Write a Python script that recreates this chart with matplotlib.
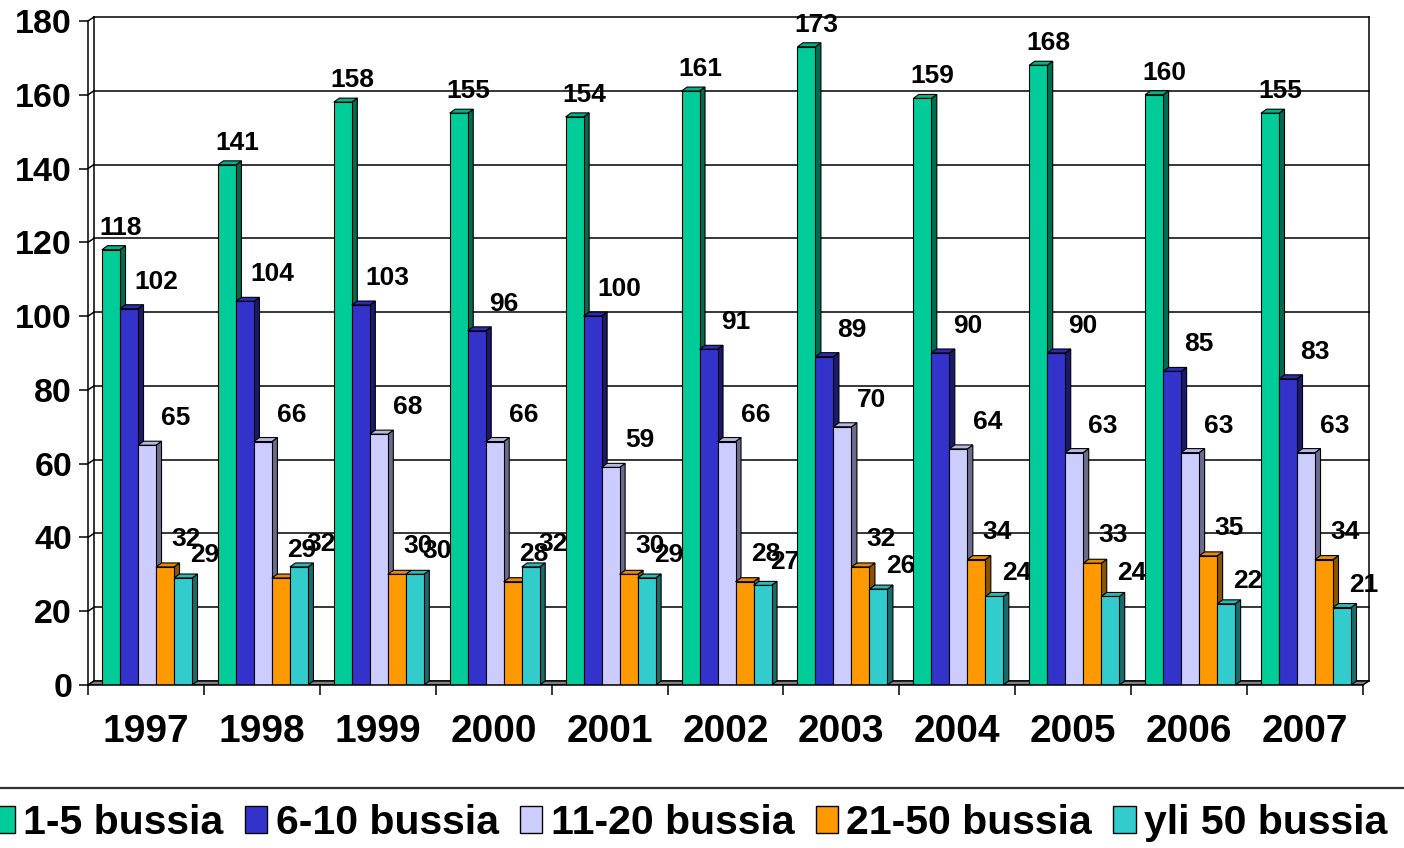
import matplotlib
matplotlib.use('Agg')
import matplotlib.pyplot as plt
import numpy as np
from matplotlib.patches import Polygon, Rectangle, Patch
from matplotlib.lines import Line2D

plt.rcParams['font.family'] = ['Liberation Sans', 'DejaVu Sans']

# Data
years = ['1997', '1998', '1999', '2000', '2001', '2002', '2003', '2004', '2005', '2006', '2007']
series_names = ['1-5 bussia', '6-10 bussia', '11-20 bussia', '21-50 bussia', 'yli 50 bussia']
s_1_5 = [118, 141, 158, 155, 154, 161, 173, 159, 168, 160, 155]
s_6_10 = [102, 104, 103, 96, 100, 91, 89, 90, 90, 85, 83]
s_11_20 = [65, 66, 68, 66, 59, 66, 70, 64, 63, 63, 63]
s_21_50 = [32, 29, 30, 28, 30, 28, 32, 34, 33, 35, 34]
s_yli_50 = [29, 32, 30, 32, 29, 27, 26, 24, 24, 22, 21]
series = [s_1_5, s_6_10, s_11_20, s_21_50, s_yli_50]

front_colors = ['#00CC99', '#3333CC', '#CCCCFF', '#FF9900', '#33CCCC']
side_colors = ['#006B4F', '#1A1A6B', '#6B6B8C', '#8C5400', '#1A6B6B']
top_colors = ['#00B386', '#2B2BB3', '#B8B8E6', '#E68A00', '#2DB8B8']
label_offsets = [(10, 22), (27, 27), (29, 27), (21, 28), (22, 23)]  # pixels

W, H = 1404, 848
fig = plt.figure(figsize=(W / 100, H / 100), dpi=100)

# layout in pixels
px_left, px_right = 88, 1372
px_top, px_bottom = 10, 685
cat_px = 115.9
val_px = 3.689

ax = fig.add_axes([px_left / W, (H - px_bottom) / H,
                   (px_right - px_left) / W, (px_bottom - px_top) / H])
ax.set_xlim(-0.5, -0.5 + (px_right - px_left) / cat_px)
ax.set_ylim(0, (px_bottom - px_top) / val_px)

# depth offsets (3D look)
dx = 6 / cat_px
dy = 4 / val_px
bdx = 5.5 / cat_px
bdy = 4 / val_px
bw = 18 / cat_px
x0, x1 = -0.5, len(years) - 0.5
ymax = 180

# back wall gridlines and connectors
for v in range(0, ymax + 1, 20):
    ax.plot([x0 + dx, x1 + dx], [v + dy, v + dy], color='black', lw=1.1, zorder=1)
    ax.plot([x0, x0 + dx], [v, v + dy], color='black', lw=1.1, zorder=1)
ax.plot([x0 + dx, x0 + dx], [dy, ymax + dy], color='black', lw=1.1, zorder=1)
ax.plot([x1 + dx, x1 + dx], [dy, ymax + dy], color='black', lw=1.1, zorder=1)

# floor
ax.add_patch(Polygon([(x0, 0), (x1, 0), (x1 + dx, dy), (x0 + dx, dy)],
                     closed=True, fc='#808080', ec='black', lw=1, zorder=2))

# bars, one group at a time so later groups cover earlier labels
for g in range(len(years)):
    base = 10 + g * 10
    for i, vals in enumerate(series):
        v = vals[g]
        left = g - 0.5 + 0.121 + i * bw
        z = base + i
        ax.add_patch(Polygon([(left + bw, 0), (left + bw + bdx, bdy),
                              (left + bw + bdx, v + bdy), (left + bw, v)],
                             closed=True, fc=side_colors[i], ec='black', lw=0.8, zorder=z))
        ax.add_patch(Polygon([(left, v), (left + bw, v), (left + bw + bdx, v + bdy),
                              (left + bdx, v + bdy)],
                             closed=True, fc=top_colors[i], ec='black', lw=0.8, zorder=z))
        ax.add_patch(Rectangle((left, 0), bw, v, fc=front_colors[i], ec='black',
                               lw=0.8, zorder=z))
    for i, vals in enumerate(series):
        v = vals[g]
        left = g - 0.5 + 0.121 + i * bw
        ax.annotate(str(v), (left + bw / 2, v), xytext=label_offsets[i],
                    textcoords='offset pixels', ha='center', va='center',
                    fontsize=19, fontweight='bold', zorder=base + 6,
                    annotation_clip=False)

# axes styling
for side in ['top', 'right']:
    ax.spines[side].set_visible(False)
ax.spines['left'].set_bounds(0, ymax)
ax.spines['bottom'].set_bounds(x0, x1)
ax.spines['left'].set_linewidth(1.1)
ax.spines['bottom'].set_linewidth(1.1)
ax.spines['left'].set_zorder(200)
ax.spines['bottom'].set_zorder(200)

ax.set_yticks(range(0, ymax + 1, 20))
ax.set_yticklabels([str(v) for v in range(0, ymax + 1, 20)], fontsize=24.5, fontweight='bold')
ax.tick_params(axis='y', direction='out', length=6.5, width=1.1, pad=5)

ax.set_xticks(np.arange(x0, x1 + 0.01, 1))
ax.set_xticklabels([])
ax.set_xticks(range(len(years)), minor=True)
ax.set_xticklabels(years, minor=True, fontsize=28, fontweight='bold')
ax.tick_params(axis='x', which='major', direction='out', length=7, width=1.1)
ax.tick_params(axis='x', which='minor', length=0, pad=21)

# legend with line above
fig.add_artist(Line2D([0, 1], [1 - 788 / H, 1 - 788 / H], transform=fig.transFigure,
                      color='#333333', lw=1.6))
handles = [Patch(fc=c, ec='black', lw=1) for c in front_colors]
fig.legend(handles, series_names, loc='center', bbox_to_anchor=(690 / W, 1 - 823 / H),
           ncol=5, frameon=False, prop={'size': 29.5, 'weight': 'bold'},
           handlelength=0.55, handleheight=0.62, handletextpad=0.2,
           columnspacing=0.52, borderpad=0, borderaxespad=0)

fig.savefig('out.png', dpi=100)
